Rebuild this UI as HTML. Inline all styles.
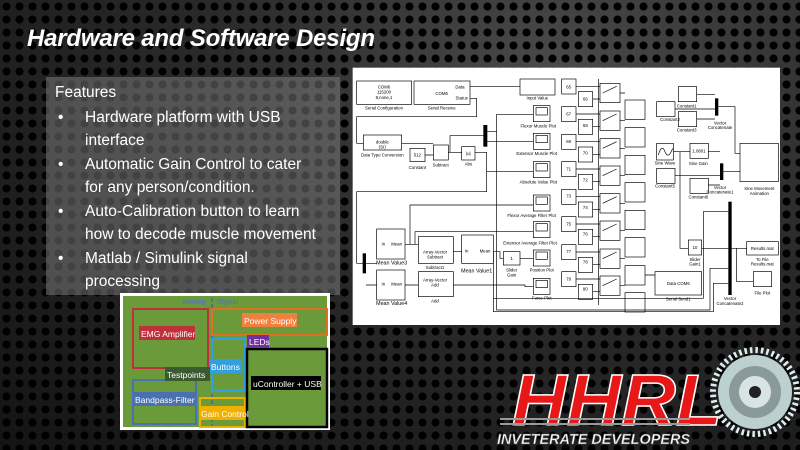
<!DOCTYPE html>
<html><head><meta charset="utf-8">
<style>
html,body{margin:0;padding:0;width:800px;height:450px;overflow:hidden}
body{position:relative;font-family:"Liberation Sans",sans-serif;
background:
radial-gradient(circle at 6.5px 6.5px,#000 0,#000 3.6px,rgba(0,0,0,0) 4.4px) 0 0/13px 13px,
radial-gradient(ellipse at 70% 15%,#4a4a4a 0%,#2a2a2a 45%,#141414 100%);}
.title{position:absolute;left:27px;top:25px;color:#fff;font-style:italic;font-weight:bold;font-size:24px;letter-spacing:-0.2px}
.panel{position:absolute;left:46px;top:77px;width:294px;height:218px;background:rgba(120,120,120,0.55)}
.t{position:absolute;color:#fff;font-size:15.5px;white-space:nowrap}
.dia{position:absolute;left:350px;top:65px}
.pcb{position:absolute;left:120px;top:293px;width:210px;height:137px;background:#fff}
</style></head><body>
<div class="title">Hardware and Software Design</div>
<div class="panel"></div>
<div class="t" style="left:55px;top:84px">Features</div>
<div class="t" style="left:58px;top:109px">•</div>
<div class="t" style="left:85px;top:109px">Hardware platform with USB</div>
<div class="t" style="left:85px;top:132px">interface</div>
<div class="t" style="left:58px;top:156px">•</div>
<div class="t" style="left:85px;top:156px">Automatic Gain Control to cater</div>
<div class="t" style="left:85px;top:179px">for any person/condition.</div>
<div class="t" style="left:58px;top:203px">•</div>
<div class="t" style="left:85px;top:203px">Auto-Calibration button to learn</div>
<div class="t" style="left:85px;top:226px">how to decode muscle movement</div>
<div class="t" style="left:58px;top:250px">•</div>
<div class="t" style="left:85px;top:250px">Matlab / Simulink signal</div>
<div class="t" style="left:85px;top:273px">processing</div>

<svg class="dia" width="445" height="262" viewBox="0 0 1335 786">
<rect x="8" y="8" width="1282" height="772" fill="#fff"/>
<g fill="none" stroke="#000" stroke-width="2">
<rect x="20" y="48" width="165" height="70"/><rect x="192" y="48" width="168" height="70"/>
<rect x="510" y="42" width="105" height="48"/>
<g id="sc"><rect x="550" y="122" width="50" height="48"/><rect x="558" y="128" width="34" height="22"/></g>
<use href="#sc" y="83"/><use href="#sc" y="168"/><use href="#sc" y="268"/><use href="#sc" y="348"/><use href="#sc" y="433"/><use href="#sc" y="518"/>
<g id="k"><rect x="635" y="42" width="43" height="45"/><rect x="685" y="80" width="43" height="45"/>
<rect x="750" y="55" width="60" height="58"/><rect x="825" y="105" width="60" height="58"/>
<path d="M678 64H750M728 102H750M810 84H825M758 84L800 64"/></g>
<use href="#k" y="83"/><use href="#k" y="166"/><use href="#k" y="248"/><use href="#k" y="331"/><use href="#k" y="413"/><use href="#k" y="497"/><use href="#k" y="578"/>
<path d="M745 42V720"/>
<rect x="985" y="65" width="55" height="45"/><rect x="920" y="110" width="55" height="45"/><rect x="985" y="140" width="55" height="45"/>
<rect x="920" y="235" width="50" height="50"/><rect x="1020" y="235" width="55" height="45"/><rect x="920" y="310" width="55" height="45"/><rect x="1020" y="340" width="55" height="45"/>
<rect x="1170" y="235" width="115" height="115"/>
<rect x="1015" y="525" width="40" height="45"/><rect x="1190" y="530" width="95" height="40"/><rect x="1210" y="620" width="55" height="45"/>
<rect x="915" y="620" width="140" height="70"/>
<rect x="40" y="210" width="115" height="45"/><rect x="180" y="250" width="45" height="40"/><rect x="250" y="240" width="45" height="45"/><rect x="335" y="245" width="40" height="40"/>
<rect x="80" y="492" width="85" height="90"/><rect x="80" y="615" width="85" height="90"/>
<rect x="205" y="515" width="105" height="80"/><rect x="205" y="620" width="105" height="75"/><rect x="335" y="510" width="95" height="85"/><rect x="460" y="560" width="50" height="40"/>
<path d="M925 270Q935 235 945 260T968 250" />
<path d="M360 64H510M360 100H380V155H20V235H40M155 235H250M225 270H250M295 262H335M300 262V212H400M375 262H410V320H550M410 200H440V148H550M410 230H550M410 262H410V380H20V595H40M48 595H80M48 660H80M165 538H205M165 660H205M180 538V420H550M195 538V500H550M310 560H335M430 560H450V580H460M510 580H550M310 660H525V665H550M430 560V740H1090V655H1135M440 148V735H1080V610H1135M970 260H1020M990 260V550H1015M1055 550H1135M1075 260H1110M975 332H1110M1075 360H1110M1040 88H1095M975 132H1095M1040 162H1095M1105 125H1155V265H1170M1120 320H1170M1145 550H1190M1160 550V650H1210M1135 440H1060V700H430M885 630H915"/>
</g>
<g fill="#000"><rect x="400" y="180" width="12" height="65"/><rect x="38" y="565" width="10" height="60"/><rect x="1095" y="100" width="10" height="52"/><rect x="1110" y="295" width="10" height="50"/><rect x="1135" y="410" width="10" height="280"/></g>
<g font-family="Liberation Sans,sans-serif" font-size="13" fill="#000" text-anchor="middle">
<text x="102" y="70">COM6</text><text x="102" y="86">115200</text><text x="102" y="102">8,none,1</text><text x="102" y="134">Serial Configuration</text>
<text x="275" y="90">COM6</text><text x="330" y="70">Data</text><text x="335" y="104">Status</text><text x="275" y="134">Serial Receive</text>
<text x="562" y="104">Input Value</text><text x="565" y="188">Flexor Muscle Plot</text><text x="560" y="270">Extensor Muscle Plot</text><text x="565" y="355">Absolute Value Plot</text>
<text x="545" y="456">Flexor Average Filter Plot</text><text x="540" y="538">Extensor Average Filter Plot</text><text x="575" y="620">Position Plot</text><text x="575" y="703">Force Plot</text>
<text x="97" y="236">double</text><text x="97" y="250">(SI)</text><text x="97" y="275">Data Type Conversion</text><text x="202" y="275">512</text><text x="202" y="312">Constant</text><text x="272" y="305">Subtract</text><text x="355" y="270">|u|</text><text x="355" y="302">Abs</text>
<text x="125" y="598" font-size="16">Mean Value3</text><text x="125" y="720" font-size="16">Mean Value4</text><text x="255" y="565">Array-Vector</text><text x="255" y="580">Subtract</text><text x="255" y="612">Subtract1</text>
<text x="255" y="650">Array-Vector</text><text x="255" y="665">Add</text><text x="255" y="712">Add</text><text x="380" y="622" font-size="16">Mean Value1</text><text x="485" y="585">1</text><text x="485" y="620">Slider</text><text x="485" y="635">Gain</text>
<text x="100" y="542">In</text><text x="140" y="542">Mean</text><text x="100" y="662">In</text><text x="140" y="662">Mean</text><text x="350" y="562">In</text><text x="405" y="562">Mean</text>
<text x="960" y="168">Constant2</text><text x="1010" y="200">Constant3</text><text x="1010" y="128">Constant1</text><text x="1110" y="178">Vector</text><text x="1110" y="192">Concatenate</text>
<text x="945" y="298">Sine Wave</text><text x="1045" y="300">Sine Gain</text><text x="1047" y="262">1.0801</text><text x="945" y="368">Constant5</text><text x="1045" y="400">Constant6</text>
<text x="1110" y="372">Vector</text><text x="1110" y="386">Concatenate1</text><text x="1228" y="375">Sine Movement</text><text x="1228" y="390">Animation</text>
<text x="1035" y="552">10</text><text x="1035" y="588">Slider</text><text x="1035" y="602">Gain1</text><text x="1237" y="555">Results.mat</text><text x="1237" y="588">To File</text><text x="1237" y="602">Results.mat</text><text x="1237" y="688">File Plot</text>
<text x="985" y="660">Data     COM6</text><text x="985" y="706">Serial Send1</text><text x="1140" y="705">Vector</text><text x="1140" y="720">Concatenate2</text>
<text x="656" y="70">65</text><text x="706" y="106">66</text><text x="656" y="152">67</text><text x="706" y="186">68</text><text x="656" y="234">69</text><text x="706" y="268">70</text><text x="656" y="316">71</text><text x="706" y="350">72</text>
<text x="656" y="398">73</text><text x="706" y="432">74</text><text x="656" y="482">75</text><text x="706" y="512">76</text><text x="656" y="564">77</text><text x="706" y="596">78</text><text x="656" y="646">79</text><text x="706" y="676">80</text>
</g>
</svg>

<div class="pcb">
<svg width="210" height="137">
<rect x="3" y="3" width="204" height="131" fill="#6a9a3a"/>
<line x1="92" y1="5" x2="92" y2="134" stroke="#3a6ab0" stroke-width="1.5" stroke-dasharray="4 2"/>
<text x="62" y="11" font-size="7" font-weight="bold" fill="#5577bb" font-family="Liberation Sans">Analog</text><text x="97" y="11" font-size="7" font-weight="bold" fill="#5577bb" font-family="Liberation Sans">Digital</text>
<rect x="13" y="16" width="75" height="59" fill="none" stroke="#c0303a" stroke-width="2"/>
<rect x="92" y="16" width="115" height="26" fill="none" stroke="#e07020" stroke-width="2"/>
<rect x="92" y="46" width="33" height="52" fill="none" stroke="#30a0e0" stroke-width="2"/>
<rect x="13" y="87" width="63" height="44" fill="none" stroke="#4a70b0" stroke-width="2"/>
<rect x="80" y="105" width="45" height="29" fill="none" stroke="#f0b000" stroke-width="2"/>
<rect x="127" y="56" width="80" height="78" fill="none" stroke="#000" stroke-width="2.5"/>
<rect x="19" y="33" width="56" height="14" fill="#c0303a"/><text x="21" y="44" font-size="8.5" fill="#fff" font-family="Liberation Sans">EMG Amplifier</text>
<rect x="122" y="20" width="55" height="14" fill="#f08040"/><text x="124" y="31" font-size="8.5" fill="#fff" font-family="Liberation Sans">Power Supply</text>
<rect x="127" y="42" width="22" height="13" fill="#7030a0"/><text x="129" y="52" font-size="8.5" fill="#fff" font-family="Liberation Sans">LEDs</text>
<rect x="90" y="66" width="32" height="14" fill="#30a0e0"/><text x="91" y="77" font-size="8.5" fill="#fff" font-family="Liberation Sans">Buttons</text>
<rect x="45" y="74" width="45" height="14" fill="#3a5a30"/><text x="47" y="85" font-size="8.5" fill="#fff" font-family="Liberation Sans">Testpoints</text>
<rect x="131" y="83" width="70" height="14" fill="#000"/><text x="133" y="94" font-size="8.5" fill="#fff" font-family="Liberation Sans">uController + USB</text>
<rect x="14" y="99" width="62" height="14" fill="#4a70b0"/><text x="15" y="110" font-size="8.5" fill="#fff" font-family="Liberation Sans">Bandpass-Filter</text>
<rect x="80" y="113" width="45" height="14" fill="#f0b000"/><text x="81" y="124" font-size="8.5" fill="#fff" font-family="Liberation Sans">Gain Control</text>
</svg></div>

<svg style="position:absolute;left:480px;top:330px" width="320" height="120">
<g transform="translate(275,62)">
<circle r="42" fill="none" stroke="#dfeeee" stroke-width="6" stroke-dasharray="2.5 3"/>
<circle r="37" fill="#bcd0d0"/><circle r="26" fill="#8a9a9a"/><circle r="16" fill="#d8e4e4"/><circle r="6" fill="#222"/>
</g>
<g font-family="Liberation Sans,sans-serif" font-style="italic" font-weight="bold">
<text x="32" y="95" font-size="72" fill="#e81818" stroke="#fff" stroke-width="1.5" textLength="210" lengthAdjust="spacingAndGlyphs">HHRL</text>
<rect x="20" y="88" width="190" height="2" fill="#999"/><rect x="20" y="93" width="190" height="2" fill="#999"/>
<text x="17" y="114" font-size="15" fill="#fff" stroke="#555" stroke-width="0.6" textLength="193" lengthAdjust="spacingAndGlyphs">INVETERATE DEVELOPERS</text>
</g>
</svg>
</body></html>
